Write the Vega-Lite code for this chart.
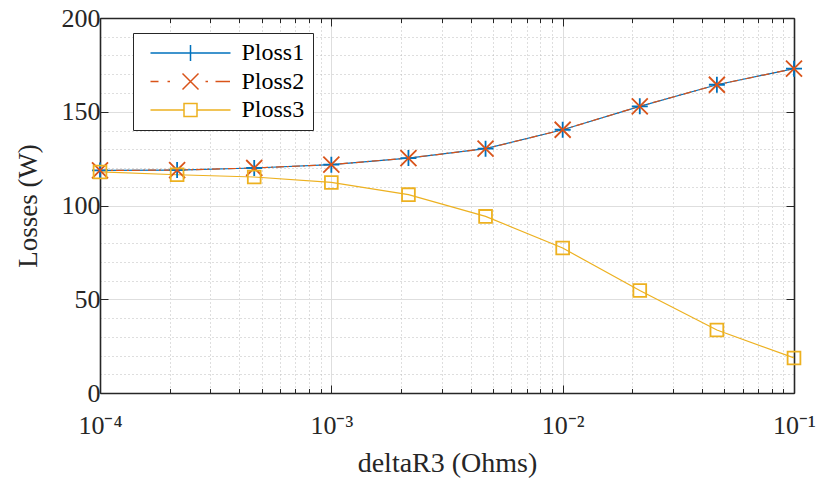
{
  "$schema": "https://vega.github.io/schema/vega-lite/v6.json",
  "width": 694,
  "height": 375,
  "autosize": {"type": "none"},
  "padding": {"left": 100, "top": 18, "right": 23, "bottom": 86},
  "background": "white",
  "config": {"view": {"stroke": null}, "font": "Liberation Serif"},
  "data": {
    "values": [
      {"deltaR3": 0.0001, "series": "Ploss1", "loss": 118.7},
      {"deltaR3": 0.00021544, "series": "Ploss1", "loss": 118.9},
      {"deltaR3": 0.00046416, "series": "Ploss1", "loss": 120.0},
      {"deltaR3": 0.001, "series": "Ploss1", "loss": 121.8},
      {"deltaR3": 0.0021544, "series": "Ploss1", "loss": 125.3},
      {"deltaR3": 0.0046416, "series": "Ploss1", "loss": 130.3},
      {"deltaR3": 0.01, "series": "Ploss1", "loss": 140.4},
      {"deltaR3": 0.021544, "series": "Ploss1", "loss": 152.9},
      {"deltaR3": 0.046416, "series": "Ploss1", "loss": 164.4},
      {"deltaR3": 0.1, "series": "Ploss1", "loss": 173.0},
      {"deltaR3": 0.0001, "series": "Ploss2", "loss": 118.7},
      {"deltaR3": 0.00021544, "series": "Ploss2", "loss": 118.9},
      {"deltaR3": 0.00046416, "series": "Ploss2", "loss": 120.0},
      {"deltaR3": 0.001, "series": "Ploss2", "loss": 121.8},
      {"deltaR3": 0.0021544, "series": "Ploss2", "loss": 125.3},
      {"deltaR3": 0.0046416, "series": "Ploss2", "loss": 130.3},
      {"deltaR3": 0.01, "series": "Ploss2", "loss": 140.4},
      {"deltaR3": 0.021544, "series": "Ploss2", "loss": 152.9},
      {"deltaR3": 0.046416, "series": "Ploss2", "loss": 164.4},
      {"deltaR3": 0.1, "series": "Ploss2", "loss": 173.0},
      {"deltaR3": 0.0001, "series": "Ploss3", "loss": 117.9},
      {"deltaR3": 0.00021544, "series": "Ploss3", "loss": 116.4},
      {"deltaR3": 0.00046416, "series": "Ploss3", "loss": 115.2},
      {"deltaR3": 0.001, "series": "Ploss3", "loss": 112.3},
      {"deltaR3": 0.0021544, "series": "Ploss3", "loss": 105.8},
      {"deltaR3": 0.0046416, "series": "Ploss3", "loss": 94.2},
      {"deltaR3": 0.01, "series": "Ploss3", "loss": 77.3},
      {"deltaR3": 0.021544, "series": "Ploss3", "loss": 54.7},
      {"deltaR3": 0.046416, "series": "Ploss3", "loss": 33.6},
      {"deltaR3": 0.1, "series": "Ploss3", "loss": 18.7}
    ]
  },
  "layer": [
    {
      "transform": [{"filter": "datum.series!=='Ploss2'"}],
      "mark": {"type": "line", "strokeWidth": 1.2},
      "encoding": {
        "x": {
          "field": "deltaR3", "type": "quantitative",
          "scale": {"type": "log", "domain": [0.0001, 0.1], "nice": false},
          "axis": {
            "orient": "bottom",
            "title": "deltaR3 (Ohms)",
            "titleFont": "Liberation Serif", "titleFontSize": 28, "titleFontWeight": "normal", "titleColor": "#262626", "titlePadding": 8,
            "values": [0.0001, 0.0002, 0.0003, 0.0004, 0.0005, 0.0006, 0.0007, 0.0008, 0.0009, 0.001, 0.002, 0.003, 0.004, 0.005, 0.006, 0.007, 0.008, 0.009, 0.01, 0.02, 0.03, 0.04, 0.05, 0.06, 0.07, 0.08, 0.09, 0.1],
            "labelExpr": "datum.value===0.0001?'10⁻⁴':datum.value===0.001?'10⁻³':datum.value===0.01?'10⁻²':datum.value===0.1?'10⁻¹':''",
            "labelFont": "Liberation Serif", "labelFontSize": 26, "labelColor": "#262626", "labelPadding": 27, "labelFlush": false, "labelOverlap": false,
            "grid": true,
            "gridColor": {"condition": {"test": "datum.value===0.0001||datum.value===0.001||datum.value===0.01||datum.value===0.1", "value": "#DEDEDE"}, "value": "#BDBDBD"},
            "gridDash": {"condition": {"test": "datum.value===0.0001||datum.value===0.001||datum.value===0.01||datum.value===0.1", "value": []}, "value": [1, 3]},
            "ticks": true, "tickColor": "#262626", "tickWidth": 1,
            "tickSize": {"condition": {"test": "datum.value===0.0001||datum.value===0.001||datum.value===0.01||datum.value===0.1", "value": -8}, "value": -4.5},
            "domain": true, "domainColor": "#262626", "domainWidth": 1.6
          }
        },
        "y": {
          "field": "loss", "type": "quantitative",
          "scale": {"domain": [0, 200], "nice": false},
          "axis": {
            "orient": "left",
            "title": "Losses (W)",
            "titleFont": "Liberation Serif", "titleFontSize": 27, "titleFontWeight": "normal", "titleColor": "#262626", "titlePadding": 19,
            "values": [0, 10, 20, 30, 40, 50, 60, 70, 80, 90, 100, 110, 120, 130, 140, 150, 160, 170, 180, 190, 200],
            "labelExpr": "datum.value%50===0?datum.label:''",
            "labelFont": "Liberation Serif", "labelFontSize": 26, "labelColor": "#262626", "labelPadding": 8,
            "grid": true,
            "gridColor": {"condition": {"test": "datum.value%50===0", "value": "#DEDEDE"}, "value": "#BDBDBD"},
            "gridDash": {"condition": {"test": "datum.value%50===0", "value": []}, "value": [1, 3]},
            "ticks": true, "tickColor": "#262626", "tickWidth": 1, "tickSize": -8,
            "tickOpacity": {"condition": {"test": "datum.value%50===0", "value": 1}, "value": 0},
            "domain": true, "domainColor": "#262626", "domainWidth": 1.6
          }
        },
        "color": {
          "field": "series", "type": "nominal",
          "scale": {"domain": ["Ploss1", "Ploss2", "Ploss3"], "range": ["#0072BD", "#D95319", "#EDB120"]},
          "legend": {
            "title": null,
            "orient": "none", "legendX": 33, "legendY": 15,
            "direction": "vertical",
            "padding": 8, "strokeColor": "#262626", "fillColor": "white",
            "labelFont": "Liberation Serif", "labelFontSize": 24, "labelColor": "#000000", "labelOffset": 39,
            "symbolSize": 100, "symbolStrokeWidth": 1.5, "symbolOffset": 37.5, "rowPadding": 4.5,
            "encode": {
              "symbols": {
                "update": {
                  "shape": {"signal": "datum.value==='Ploss1' ? 'M-8,0L8,0M0,-1.6L0,1.6' : datum.value==='Ploss2' ? 'M-8,0L-6.4,0M-4.6,0L-4.1,0M-1.6,-1.6L1.6,1.6M-1.6,1.6L1.6,-1.6M3,0L3.5,0M5,0L7.9,0' : 'M-8,0L-1.3,0M1.3,0L8,0M-1.3,-1.3L1.3,-1.3L1.3,1.3L-1.3,1.3Z'"},
                  "fill": {"value": "transparent"}
                }
              }
            }
          }
        }
      }
    },
    {
      "transform": [{"filter": "datum.series==='Ploss2'"}],
      "mark": {"type": "line", "strokeWidth": 1.2, "color": "#D95319", "strokeDash": [8, 3, 2, 3]},
      "encoding": {
        "x": {"field": "deltaR3", "type": "quantitative", "axis": null},
        "y": {"field": "loss", "type": "quantitative", "axis": null}
      }
    },
    {
      "transform": [{"filter": "datum.series==='Ploss1'"}],
      "mark": {"type": "point", "filled": false, "strokeWidth": 1.8, "opacity": 1, "size": 256, "color": "#0072BD", "shape": "M-1,0L1,0M0,-1L0,1"},
      "encoding": {
        "x": {
          "field": "deltaR3", "type": "quantitative",
          "scale": {"type": "log", "domain": [0.0001, 0.1], "nice": false},
          "axis": {
            "orient": "top", "title": null, "labels": false, "grid": false,
            "values": [0.0001, 0.0002, 0.0003, 0.0004, 0.0005, 0.0006, 0.0007, 0.0008, 0.0009, 0.001, 0.002, 0.003, 0.004, 0.005, 0.006, 0.007, 0.008, 0.009, 0.01, 0.02, 0.03, 0.04, 0.05, 0.06, 0.07, 0.08, 0.09, 0.1],
            "ticks": true, "tickColor": "#262626", "tickWidth": 1,
            "tickSize": {"condition": {"test": "datum.value===0.0001||datum.value===0.001||datum.value===0.01||datum.value===0.1", "value": -8}, "value": -4.5},
            "domain": true, "domainColor": "#262626", "domainWidth": 1.6
          }
        },
        "y": {
          "field": "loss", "type": "quantitative",
          "scale": {"domain": [0, 200], "nice": false},
          "axis": {
            "orient": "right", "title": null, "labels": false, "grid": false,
            "values": [0, 50, 100, 150, 200],
            "ticks": true, "tickColor": "#262626", "tickWidth": 1, "tickSize": -8,
            "domain": true, "domainColor": "#262626", "domainWidth": 1.6
          }
        }
      }
    },
    {
      "transform": [{"filter": "datum.series==='Ploss2'"}],
      "mark": {"type": "point", "filled": false, "strokeWidth": 1.8, "opacity": 1, "size": 256, "color": "#D95319", "shape": "M-1,-1L1,1M-1,1L1,-1"},
      "encoding": {
        "x": {"field": "deltaR3", "type": "quantitative", "axis": null},
        "y": {"field": "loss", "type": "quantitative", "axis": null}
      }
    },
    {
      "transform": [{"filter": "datum.series==='Ploss3'"}],
      "mark": {"type": "point", "filled": false, "strokeWidth": 1.8, "opacity": 1, "size": 256, "color": "#EDB120", "shape": "M-0.8,-0.8L0.8,-0.8L0.8,0.8L-0.8,0.8Z"},
      "encoding": {
        "x": {"field": "deltaR3", "type": "quantitative", "axis": null},
        "y": {"field": "loss", "type": "quantitative", "axis": null}
      }
    }
  ],
  "resolve": {"axis": {"x": "independent", "y": "independent"}}
}
